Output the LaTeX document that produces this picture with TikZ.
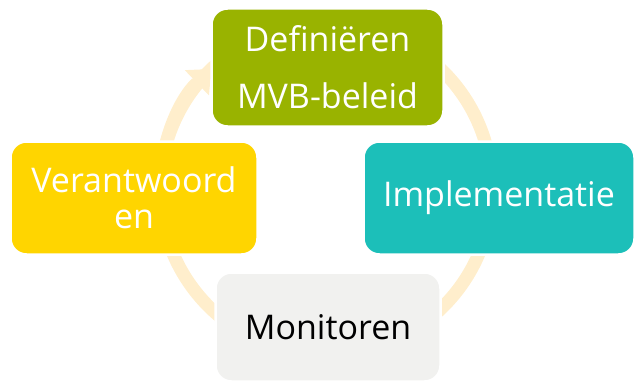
\documentclass[tikz,border=0pt]{standalone}
\usepackage{fontspec}
\setmainfont{Open Sans}
\usetikzlibrary{arrows.meta,positioning}
\definecolor{defgreen}{RGB}{153,179,0}
\definecolor{impteal}{RGB}{28,191,185}
\definecolor{veryellow}{RGB}{255,213,0}
\definecolor{mongrey}{RGB}{241,241,239}
\definecolor{ringtone}{RGB}{255,238,204}
\tikzset{%
	stage/.style = {draw=white, line width=2.5pt, rounded corners=16pt, text=white, align=center, inner sep=0pt, font=\fontsize{34}{36}\selectfont},
	ring/.style  = {draw=ringtone, line width=13pt},
}

\begin{document}
\begin{tikzpicture}[x=1pt,y=1pt]
	\useasboundingbox (0,0) rectangle (634,381);
	% the cycle behind the stages
	\draw[ring] (326,192) circle (166);
	\draw[ring,-{Triangle[width=35pt,length=20pt,line width=0pt]}] (326,192) ++(180:166) arc[start angle=180,end angle=133.7,radius=166];
	
	\node[stage,fill=defgreen,minimum width=232pt,minimum height=118pt] (def) at (327.5,313.5) {Definiëren\\[21pt]MVB-beleid};
	\node[stage,fill=impteal,minimum width=271pt,minimum height=113pt] (imp) at (499,183) {Implementatie};
	\node[stage,fill=mongrey,text=black,minimum width=225pt,minimum height=109pt] (mon) at (328,54) {Monitoren};
	\node[stage,fill=veryellow,minimum width=247pt,minimum height=113pt] (ver) at (134,183) {Verantwoord\\en};
\end{tikzpicture}
\end{document}
